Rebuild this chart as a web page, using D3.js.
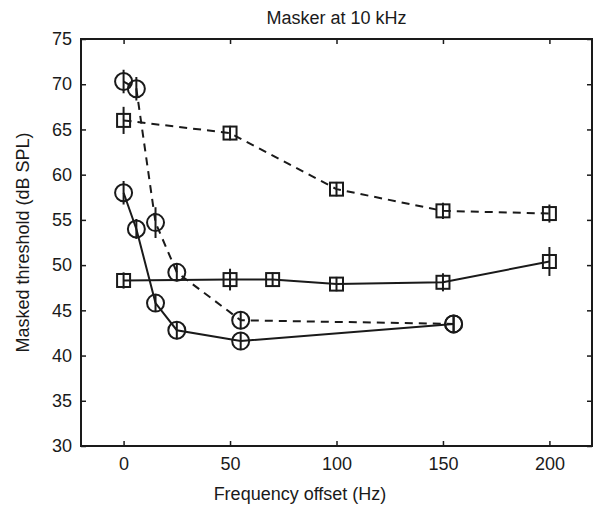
<!DOCTYPE html>
<html>
<head>
<meta charset="utf-8">
<script src="https://cdn.jsdelivr.net/npm/d3@7"></script>
<style>
  body { margin: 0; background: #fff; }
  svg text { font-family: "Liberation Sans", Arial, sans-serif; fill: #1a1a1a; }
</style>
</head>
<body>
<svg id="chart" width="594" height="510"></svg>
<script>
// frequency offsets (Hz) and thresholds (dB SPL), with error half-widths
const circHz = [0, 6, 15, 25, 55, 155];
const circDashed = [70.3, 69.5, 54.7, 49.2, 43.9, 43.5];
const circDashedErr = [1.3, 1.3, 1.7, 1.0, 1.0, 0.8];
const circSolid = [58.0, 54.0, 45.8, 42.8, 41.6, 43.5];
const circSolidErr = [1.3, 1.1, 0.9, 1.0, 1.0, 0.9];

const sqDashedHz = [0, 50, 100, 150, 200];
const sqDashed = [66.0, 64.6, 58.4, 56.0, 55.7];
const sqDashedErr = [1.5, 0.8, 0.8, 0.9, 1.0];
const sqSolidHz = [0, 50, 70, 100, 150, 200];
const sqSolid = [48.3, 48.4, 48.4, 47.9, 48.1, 50.4];
const sqSolidErr = [0.9, 1.2, 0.8, 0.8, 1.0, 1.6];

const xTicks = [0, 50, 100, 150, 200];
const yTicks = [30, 35, 40, 45, 50, 55, 60, 65, 70, 75];

const ink = '#1a1a1a';
const fs = '18px';
const svg = d3.select('#chart');
const x = d3.scaleLinear().domain([-20, 220]).range([81, 592]);
const y = d3.scaleLinear().domain([30, 75]).range([446, 39]);

// Axes (ticks pointing inward, box all round)
svg.append('g')
  .attr('transform', `translate(0 ${y(30)})`)
  .call(d3.axisBottom(x).tickValues(xTicks).tickSizeInner(-5).tickSizeOuter(0).tickPadding(11))
  .call(g => g.select('.domain').remove())
  .call(g => g.selectAll('text').style('font-size', fs));
svg.append('g')
  .attr('transform', `translate(0 ${y(75)})`)
  .call(d3.axisTop(x).tickValues(xTicks).tickSizeInner(-5).tickSizeOuter(0).tickFormat(''))
  .call(g => g.select('.domain').remove());
svg.append('g')
  .attr('transform', `translate(${x(-20)} 0)`)
  .call(d3.axisLeft(y).tickValues(yTicks).tickSizeInner(-5).tickSizeOuter(0).tickPadding(9))
  .call(g => g.select('.domain').remove())
  .call(g => g.selectAll('text').style('font-size', fs));
svg.append('g')
  .attr('transform', `translate(${x(220)} 0)`)
  .call(d3.axisRight(y).tickValues(yTicks).tickSizeInner(-5).tickSizeOuter(0).tickFormat(''))
  .call(g => g.select('.domain').remove());
svg.selectAll('.tick line').attr('stroke', ink).attr('stroke-width', 1.5);

svg.append('rect')
  .attr('x', x(-20)).attr('y', y(75))
  .attr('width', x(220) - x(-20)).attr('height', y(30) - y(75))
  .attr('fill', 'none').attr('stroke', ink).attr('stroke-width', 2);

// Series
const series = [
  {hz: circHz, v: circDashed, e: circDashedErr, shape: 'circle', dash: '8,6'},
  {hz: circHz, v: circSolid, e: circSolidErr, shape: 'circle', dash: null},
  {hz: sqDashedHz, v: sqDashed, e: sqDashedErr, shape: 'square', dash: '8,6'},
  {hz: sqSolidHz, v: sqSolid, e: sqSolidErr, shape: 'square', dash: null}
];

const line = d3.line().x(d => x(d[0])).y(d => y(d[1]));

series.forEach(s => {
  const pts = s.hz.map((h, i) => [h, s.v[i], s.e[i]]);
  const g = svg.append('g');
  g.append('path')
    .datum(pts)
    .attr('d', line)
    .attr('fill', 'none')
    .attr('stroke', ink)
    .attr('stroke-width', 2)
    .attr('stroke-dasharray', s.dash);
  // error bars
  g.selectAll('line.err').data(pts).enter().append('line')
    .attr('x1', d => x(d[0])).attr('x2', d => x(d[0]))
    .attr('y1', d => y(d[1] - d[2])).attr('y2', d => y(d[1] + d[2]))
    .attr('stroke', ink).attr('stroke-width', 2);
  if (s.shape == 'circle') {
    g.selectAll('circle').data(pts).enter().append('circle')
      .attr('cx', d => x(d[0])).attr('cy', d => y(d[1]))
      .attr('r', 8.5)
      .attr('fill', 'none').attr('stroke', ink).attr('stroke-width', 2);
  } else {
    g.selectAll('rect').data(pts).enter().append('rect')
      .attr('x', d => x(d[0]) - 6.5).attr('y', d => y(d[1]) - 6.5)
      .attr('width', 13).attr('height', 13)
      .attr('fill', 'none').attr('stroke', ink).attr('stroke-width', 2);
  }
});

// Titles
svg.append('text')
  .attr('x', (x(-20) + x(220)) / 2).attr('y', 24)
  .attr('text-anchor', 'middle').style('font-size', fs)
  .text('Masker at 10 kHz');
svg.append('text')
  .attr('x', 300).attr('y', 500)
  .attr('text-anchor', 'middle').style('font-size', fs)
  .text('Frequency offset (Hz)');
svg.append('text')
  .attr('transform', `translate(29 ${(y(30) + y(75)) / 2}) rotate(-90)`)
  .attr('text-anchor', 'middle').style('font-size', fs)
  .text('Masked threshold (dB SPL)');
</script>
</body>
</html>
